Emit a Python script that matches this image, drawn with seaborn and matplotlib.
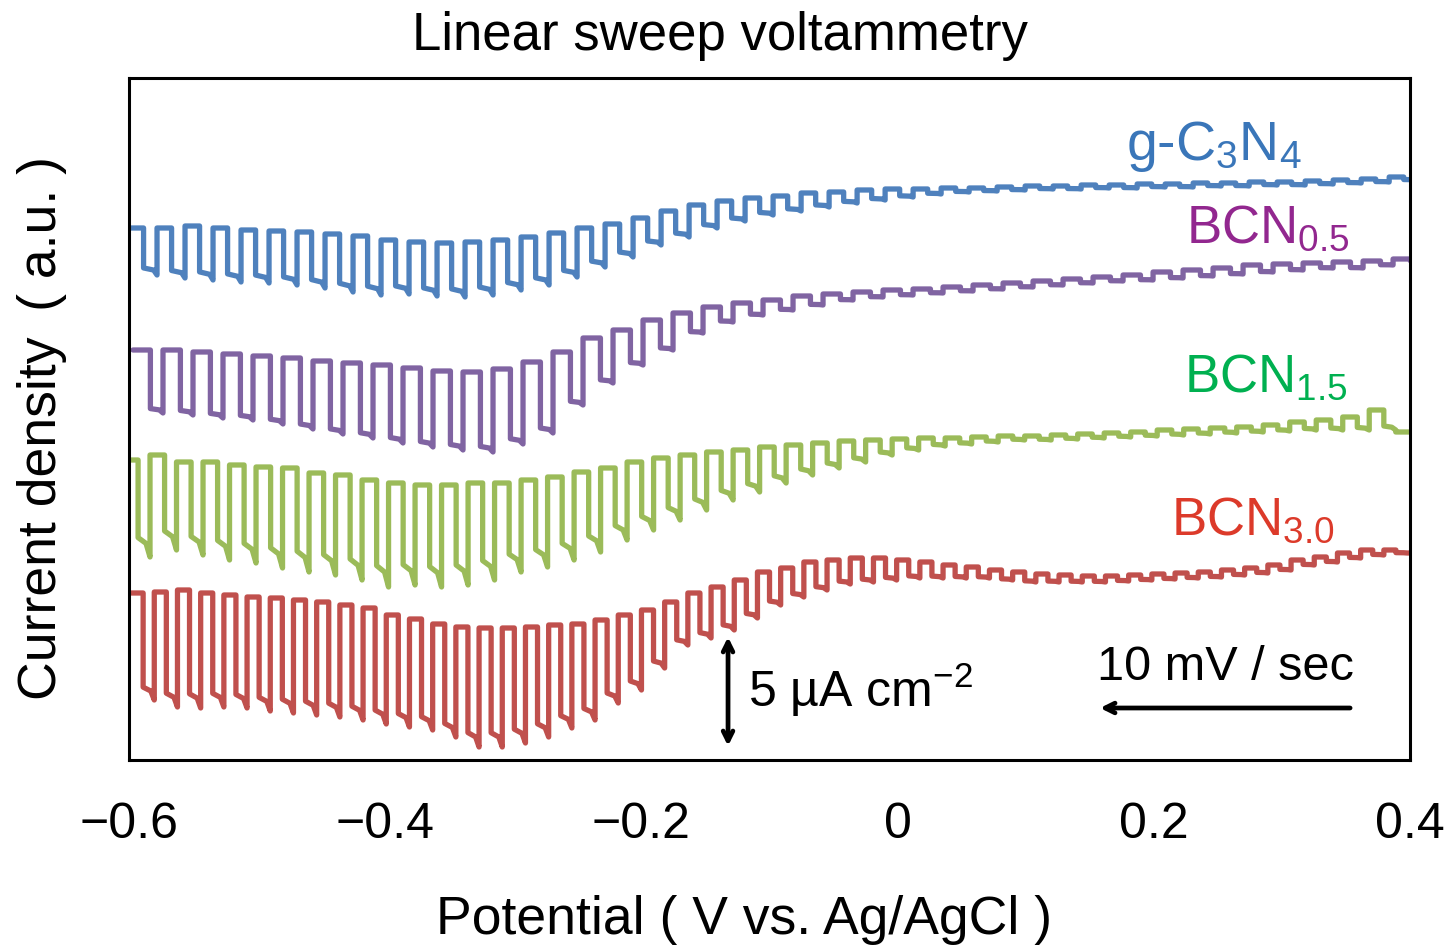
import matplotlib
matplotlib.use("Agg")
import numpy as np
import pandas as pd
import matplotlib.pyplot as plt
import seaborn as sns

# ---------------- data (current in a.u.) ----------------
# chopped-light LSV: per chopping cycle, the dark level and the (cathodic) light level
gcn_start = -0.600      # V, first chopping edge
gcn_period = 0.02186    # V per chopping cycle
gcn_dark = [532, 532, 534, 532, 530, 529, 528, 526, 524, 520, 518, 517, 518, 520, 523, 527,
            532, 536, 542, 549, 555, 559, 562, 564, 567, 568, 570, 571, 571, 572, 572, 573,
            574, 574, 575, 575, 576, 576, 577, 577, 578, 578, 579, 580, 581, 583]
gcn_light = [485, 482, 480, 478, 477, 475, 472, 468, 465, 466, 464, 463, 465, 470, 475, 483,
             493, 503, 515, 523, 532, 539, 545, 549, 553, 557, 560, 563, 566, 568, 569, 570,
             571, 571, 572, 572, 573, 573, 574, 574, 575, 575, 576, 577, 578, 580]

bcn05_start = -0.5969
bcn05_period = 0.02342
bcn05_dark = [410, 410, 408, 406, 404, 402, 399, 397, 395, 392, 389, 388, 391, 398, 408, 422,
              430, 440, 447, 453, 457, 460, 464, 466, 468, 470, 471, 473, 475, 477, 479, 481,
              483, 485, 488, 490, 492, 495, 496, 497, 498, 499, 501]
bcn05_light = [347, 345, 342, 340, 336, 331, 326, 322, 317, 313, 310, 308, 316, 327, 355, 377,
               395, 410, 427, 438, 445, 450, 455, 460, 463, 465, 467, 469, 471, 473, 475, 477,
               479, 480, 482, 484, 486, 488, 490, 492, 492, 495, 499]

bcn15_start = -0.6043
bcn15_period = 0.02069
bcn15_dark = [300, 305, 298, 298, 295, 293, 292, 287, 285, 280, 277, 275, 275, 277, 277, 280,
              283, 288, 292, 298, 302, 305, 308, 310, 313, 315, 317, 319, 320, 321, 322, 322,
              323, 324, 324, 325, 326, 327, 328, 330, 331, 332, 333, 335, 338, 340, 343, 350, 328]
bcn15_light = [203, 210, 205, 200, 197, 192, 188, 185, 180, 173, 175, 173, 175, 180, 188, 193,
               200, 208, 220, 230, 240, 250, 260, 268, 277, 285, 292, 298, 305, 310, 314, 316,
               318, 320, 320, 321, 322, 323, 324, 325, 326, 327, 328, 329, 330, 330, 330, 330, 328]

bcn30_start = -0.5984
bcn30_period = 0.01811
bcn30_dark = [167, 168, 170, 167, 165, 163, 162, 160, 158, 155, 152, 145, 141, 136, 133, 132,
              132, 133, 135, 136, 140, 145, 150, 158, 167, 173, 180, 188, 192, 198, 200, 202,
              202, 200, 198, 195, 193, 190, 188, 186, 185, 184, 184, 185, 186, 187, 188, 190,
              192, 195, 200, 203, 207, 210, 210, 207]
bcn30_light = [60, 53, 52, 53, 52, 49, 47, 45, 43, 40, 36, 33, 30, 23, 13, 13,
               17, 23, 32, 40, 57, 70, 92, 115, 122, 130, 142, 155, 163, 170, 176, 178,
               180, 182, 182, 182, 182, 180, 178, 178, 178, 178, 179, 180, 181, 182, 183, 185,
               187, 190, 195, 198, 202, 205, 207, 205]

samples = ["g-C3N4", "BCN0.5", "BCN1.5", "BCN3.0"]
line_colors = ["#4F81BD", "#8064A2", "#9BBB59", "#C0504D"]
label_colors = ["#3A76B9", "#92278F", "#00B050", "#DC3A2A"]
label_texts = ["g-C$_3$N$_4$", "BCN$_{0.5}$", "BCN$_{1.5}$", "BCN$_{3.0}$"]
xtick_vals = [-0.6, -0.4, -0.2, 0.0, 0.2, 0.4]
xtick_labels = ["\u22120.6", "\u22120.4", "\u22120.2", "0", "0.2", "0.4"]


def chopped_trace(start, period, dark, light, duty, sag, spike_frac):
    """Square-wave trace: dark plateau, drop, light plateau ending in a short spike."""
    xs, ys = [], []
    for i, (d, l) in enumerate(zip(dark, light)):
        s = start + i * period
        m = s + duty * period
        e = s + period
        f = e - spike_frac * period
        mid = d + (l - d) * sag
        xs += [s, m, m, f, e]
        ys += [d, d, mid, mid + (l - mid) * 0.3, l]
    return xs, ys


traces = [
    chopped_trace(gcn_start, gcn_period, gcn_dark, gcn_light, 0.52, 0.85, 0.12),
    chopped_trace(bcn05_start, bcn05_period, bcn05_dark, bcn05_light, 0.58, 0.93, 0.12),
    chopped_trace(bcn15_start, bcn15_period, bcn15_dark, bcn15_light, 0.55, 0.80, 0.15),
    chopped_trace(bcn30_start, bcn30_period, bcn30_dark, bcn30_light, 0.52, 0.88, 0.15),
]
frames = []
for name, (xs, ys) in zip(samples, traces):
    frames.append(pd.DataFrame({"E": xs, "j": ys, "sample": name}))
df = pd.concat(frames, ignore_index=True)

# ---------------- style ----------------
sns.set_style("white")
plt.rcParams["font.family"] = ["Liberation Sans", "DejaVu Sans"]
plt.rcParams["mathtext.fontset"] = "custom"
plt.rcParams["mathtext.rm"] = "Liberation Sans"
plt.rcParams["mathtext.it"] = "Liberation Sans"
plt.rcParams["mathtext.default"] = "regular"
plt.rcParams["text.color"] = "black"
plt.rcParams["axes.labelcolor"] = "black"
plt.rcParams["xtick.color"] = "black"

fig = plt.figure(figsize=(14.48, 9.5), dpi=100)
ax = fig.add_axes([0.0891, 0.2, 0.8847, 0.7179])

sns.lineplot(data=df, x="E", y="j", hue="sample", palette=dict(zip(samples, line_colors)),
             estimator=None, sort=False, units="sample", legend=False, lw=3.8, ax=ax,
             solid_joinstyle="round", solid_capstyle="round")

ax.set_xlim(-0.6, 0.4)
ax.set_ylim(0, 682)
ax.set_xticks(xtick_vals)
ax.set_xticklabels(xtick_labels, fontsize=36)
ax.set_yticks([])
ax.tick_params(axis="x", direction="in", length=11, width=2, pad=30, top=False)
for sp in ax.spines.values():
    sp.set_linewidth(2.2)
    sp.set_color("black")

ax.set_xlabel("Potential ( V vs. Ag/AgCl )", fontsize=38.5)
ax.xaxis.label.set_va("center")
ax.xaxis.set_label_coords(0.48, -0.2346)
ax.set_ylabel("Current density\u2009 ( a.u. )", fontsize=38.5)
ax.yaxis.label.set_va("center")
ax.yaxis.set_label_coords(-0.068, 0.487)

ax.text(0.461, 1.062, "Linear sweep voltammetry", transform=ax.transAxes,
        ha="center", va="center", fontsize=38)

# sample labels
label_x = [0.3157, 0.3532, 0.3516, 0.3415]
label_y = [600, 517, 368, 225]
label_size = [40, 38, 38, 38]
for t, c, lx, ly, fs in zip(label_texts, label_colors, label_x, label_y, label_size):
    ax.text(lx, ly, t, color=c, fontsize=fs, ha="right", va="baseline")

# scale bar
ax.annotate("", xy=(-0.1324, 14), xytext=(-0.1324, 123),
            arrowprops=dict(arrowstyle="<->,head_length=0.7,head_width=0.35", lw=3.4,
                            color="black", shrinkA=0, shrinkB=0))
ax.text(-0.1168, 70, "5 \u00b5A cm$^{\u22122}$", fontsize=36, ha="left", va="center")

# scan direction
ax.annotate("", xy=(0.158, 52), xytext=(0.3532, 52),
            arrowprops=dict(arrowstyle="->,head_length=0.7,head_width=0.35", lw=3.4,
                            color="black", shrinkA=0, shrinkB=0))
ax.text(0.2556, 92, "10 mV / sec", fontsize=35, ha="center", va="center")

fig.savefig("out.png", dpi=100)
